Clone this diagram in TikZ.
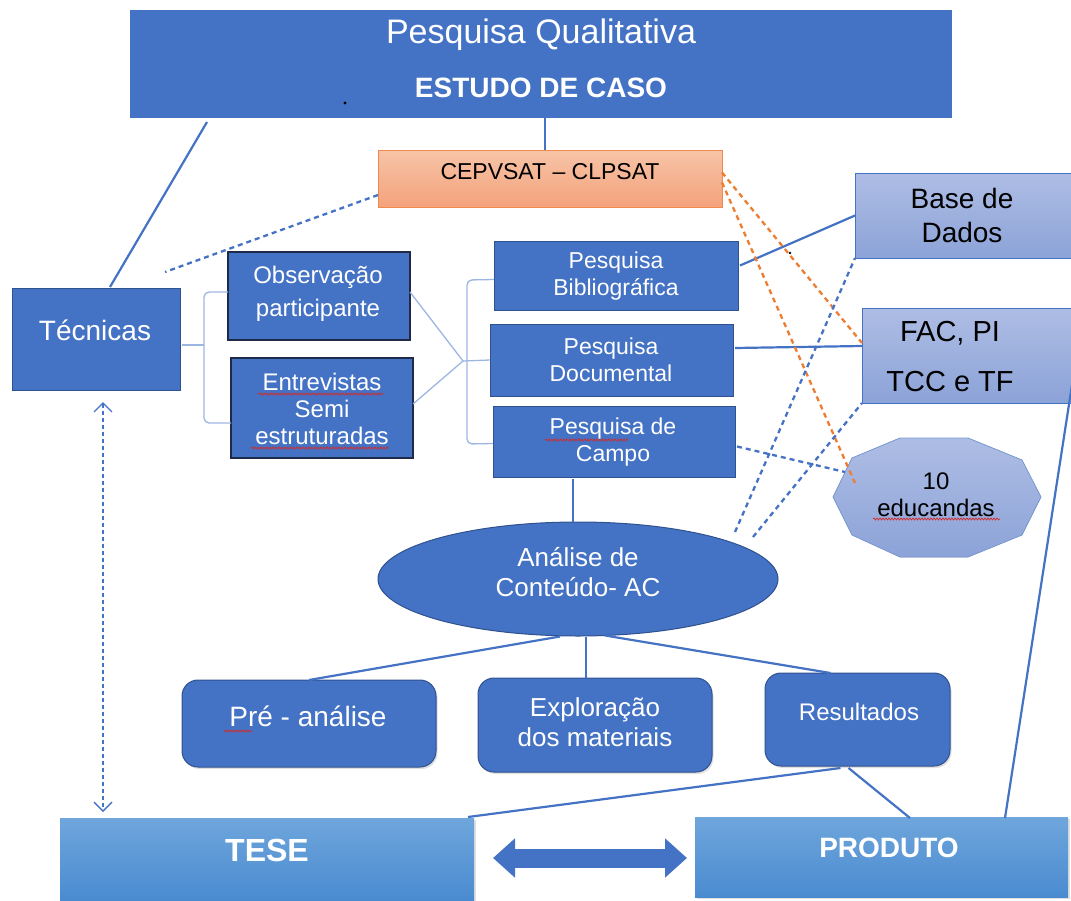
\documentclass[tikz,border=0pt]{standalone}
\usepackage{fontspec}
\setmainfont{Liberation Sans}
\usetikzlibrary{arrows.meta,calc,decorations.pathmorphing,shadows,shapes.geometric}

\definecolor{myblue}{HTML}{4472C4}
\definecolor{navy}{HTML}{2F528F}
\definecolor{ink}{HTML}{1E2A48}
\definecolor{liteT}{HTML}{AEBDE4}
\definecolor{liteB}{HTML}{8CA3D8}
\definecolor{barT}{HTML}{6FA6DC}
\definecolor{barB}{HTML}{4A8BD0}
\definecolor{oraT}{HTML}{F7C4A8}
\definecolor{oraB}{HTML}{F4A27B}
\definecolor{oraE}{HTML}{F08A4B}
\definecolor{oran}{HTML}{ED7D31}
\definecolor{brkc}{HTML}{9DB5E2}
\definecolor{wavyred}{HTML}{D02C2C}

\newcommand{\fsz}[2]{\fontsize{#1}{#2}\selectfont}

\begin{document}
\begin{tikzpicture}[x=1pt,y=-1pt,
  box/.style={rectangle, inner sep=0pt, outer sep=0pt},
  dark/.style={box, fill=myblue, draw=navy, line width=1pt},
  darkk/.style={box, fill=myblue, draw=ink, line width=1.6pt},
  light/.style={box, top color=liteT, bottom color=liteB, draw=myblue, line width=0.9pt},
  roundbox/.style={box, rounded corners=16pt, fill=myblue, draw=navy, line width=1pt,
    drop shadow={opacity=0.25, shadow xshift=1.5pt, shadow yshift=-2pt}},
  bar/.style={box, top color=barT, bottom color=barB,
    drop shadow={opacity=0.25, shadow xshift=2pt, shadow yshift=-2pt}},
  lbl/.style={inner sep=0pt, text=white, align=center},
  blk/.style={lbl, text=black},
  conn/.style={draw=myblue, line width=2.2pt},
  brk/.style={draw=brkc, line width=1.3pt},
  bdash/.style={draw=myblue, line width=2.3pt, dash pattern=on 5pt off 4pt},
  odash/.style={draw=oran, line width=2.3pt, dash pattern=on 5pt off 4pt},
  wavy/.style={draw=wavyred, line width=0.7pt, decorate,
    decoration={snake, amplitude=1pt, segment length=3pt}}
]
\useasboundingbox (0,0) rectangle (1071,900);
\clip (0,0) rectangle (1071,900);

% ---------- boxes ----------
\node[box, fill=myblue, minimum width=822pt, minimum height=108pt] (top) at (541,64) {};
\node[box, top color=oraT, bottom color=oraB, draw=oraE, line width=0.8pt,
      minimum width=344pt, minimum height=57pt] (ora) at (550,178.5) {};
\node[dark, minimum width=168pt, minimum height=102pt] (tec) at (96,339) {};
\node[darkk, minimum width=182pt, minimum height=88pt] (obs) at (319,296) {};
\node[darkk, minimum width=182pt, minimum height=100pt] (ent) at (322,408) {};
\node[dark, minimum width=244pt, minimum height=69pt] (bib) at (616,275.5) {};
\node[dark, minimum width=243pt, minimum height=72pt] (doc) at (611.5,360) {};
\node[dark, minimum width=242pt, minimum height=71pt] (cam) at (614,441.5) {};
\node[light, minimum width=225pt, minimum height=85pt] (base) at (967.5,215.5) {};
\node[light, minimum width=218pt, minimum height=95pt] (fac) at (971,355.5) {};

% ten-sided badge
\coordinate (oct) at (937,497);
\filldraw[top color=liteT, bottom color=liteB, draw=myblue!70, line width=0.8pt, shift={(937,497)}]
  (-37,-59) -- (31,-59) -- (85,-37) -- (104,0) -- (85,38) -- (31,60)
  -- (-37,60) -- (-85,38) -- (-104,0) -- (-85,-39) -- cycle;

\node[ellipse, fill=myblue, draw=navy, line width=1pt, inner sep=0pt,
      minimum width=400pt, minimum height=114pt] (ell) at (578,579) {};

\node[roundbox, minimum width=254pt, minimum height=87pt] (pre) at (309,723.5) {};
\node[roundbox, minimum width=234pt, minimum height=94pt] (exp) at (595,725) {};
\node[roundbox, minimum width=185pt, minimum height=93pt] (res) at (857.5,719.5) {};

\node[bar, minimum width=414pt, minimum height=82pt] (tese) at (267,859) {};
\node[bar, minimum width=373pt, minimum height=80pt] (prod) at (881.5,857) {};

% ---------- texts ----------
\node[lbl, font=\fsz{34}{40}] (tPQ) at (541,35) {Pesquisa Qualitativa};
\node[lbl, font=\fsz{28}{32}\bfseries] (tEC) at (541,88) {ESTUDO DE CASO};
\node[blk, font=\fsz{23}{27}] (tOra) at (550,172) {CEPVSAT – CLPSAT};
\node[lbl, font=\fsz{28}{32}] (tTec) at (95,330) {Técnicas};
\node[lbl, font=\fsz{24}{33}] (tObs) at (318,293.5) {Observação\\participante};
\node[lbl, font=\fsz{24}{27}] (tEnt) at (322,409) {Entrevistas\\Semi\\estruturadas};
\node[lbl, font=\fsz{23}{27}] (tBib) at (616,276.5) {Pesquisa\\Bibliográfica};
\node[lbl, font=\fsz{23}{27}] (tDoc) at (611,359.5) {Pesquisa\\Documental};
\node[lbl, font=\fsz{23}{27}] (tCam) at (613,442.5) {Pesquisa de\\Campo};
\node[blk, font=\fsz{28}{34}] (tBase) at (962,215) {Base de\\Dados};
\node[blk, font=\fsz{29}{50}] (tFac) at (950,357) {FAC, PI\\TCC e TF};
\node[blk, font=\fsz{24}{27}] (tOct) at (936,495) {10\\educandas};
\node[lbl, font=\fsz{26}{30}] (tEll) at (578,572) {Análise de\\Conteúdo- AC};
\node[lbl, font=\fsz{28}{32}] (tPre) at (308,716) {Pré - análise};
\node[lbl, font=\fsz{26}{30}] (tExp) at (595,722) {Exploração\\dos materiais};
\node[lbl, font=\fsz{24}{28}] (tRes) at (859,712) {Resultados};
\node[lbl, font=\fsz{32}{36}\bfseries] (tTese) at (267,850) {TESE};
\node[lbl, font=\fsz{28}{32}\bfseries] (tProd) at (889,848) {PRODUTO};

% spell-check underlines
\draw[wavy] (258,394) -- (383,394);
\draw[wavy] (251,448) -- (389,448);
\draw[wavy] (545,440) -- (628,440);
\draw[wavy] (873,519) -- (1000,519);
\draw[wavy] (224,731) -- (252,731);

% stray dots
\fill (345,103) circle (1.6pt);
\fill (790,253) circle (1.4pt);

% ---------- connectors ----------
\draw[conn] ($(top.south west)+(77,4)$) -- ($(tec.north west)+(98,-1)$);
\draw[conn] ($(top.south)+(4,0)$) -- ($(ora.north)+(-5,0)$);

\coordinate (free) at (165,272);
\draw[bdash] ($(ora.south west)+(0,-12)$) -- (free);

% brackets
\draw[brk] ($(tec.east)+(2,6)$) -- (204,345);
\draw[brk, rounded corners=5pt] ($(obs.west)+(0,-4)$) -- (204,292) -- (204,423) -- ($(ent.west)+(0,15)$);
\coordinate (cv) at (463,361);
\draw[brk] ($(obs.east)+(0,-4)$) -- (cv) -- ($(ent.east)+(0,-4)$);
\draw[brk] (cv) -- (doc.west);
\draw[brk, rounded corners=5pt] ($(bib.west)+(0,4)$) -- (467,280) -- (467,444) -- ($(cam.west)+(0,2)$);

% links to the sources
\draw[conn] ($(bib.east)+(2,-10)$) -- (base.west);
\draw[conn] ($(doc.east)+(2,-12)$) -- ($(fac.west)+(0,-9.5)$);
\draw[odash] ($(ora.east)+(0,-6)$) -- ($(fac.north west)+(0,35)$);
\draw[odash] ($(ora.east)+(0,4)$) -- ($(oct)+(-82,-14)$);
\draw[bdash] ($(cam.east)+(2,5)$) -- ($(oct)+(-92,-25)$);
\draw[bdash] ($(ell.center)+(157,-47)$) -- (base.south west);
\draw[bdash] ($(ell.center)+(175,-42)$) -- (fac.south west);

% analysis chain
\draw[conn] ($(cam.south)+(-41,2)$) -- ($(ell.north)+(-5,0)$);
\draw[conn] ($(ell.south)+(-18,0)$) -- (pre.north);
\draw[conn] ($(ell.south)+(8,0)$) -- ($(exp.north)+(-9,0)$);
\draw[conn] ($(ell.south)+(27,-1)$) -- ($(res.north)+(-27,0)$);
\draw[conn] ($(res.south)+(-17,2)$) -- ($(tese.north east)+(-6,-1)$);
\draw[conn] ($(res.south)+(-9,2)$) -- ($(prod.north)+(28.5,1)$);
\draw[conn] ($(fac.south east)+(-8,-18)$) -- ($(prod.north east)+(-63,1)$);

% technique <-> thesis
\draw[myblue, line width=1.4pt, dash pattern=on 4pt off 3pt,
      {Straight Barb[length=9pt,width=18pt]}-{Straight Barb[length=9pt,width=18pt]}]
  ($(tec.south)+(7,12)$) -- ($(tese.north west)+(43,-6)$);

% thesis <-> product
\draw[myblue, line width=19pt,
      {Triangle[length=22pt,width=38pt]}-{Triangle[length=22pt,width=38pt]}]
  ($(tese.east)+(19,-1)$) -- ($(prod.west)+(-8,1)$);

\end{tikzpicture}
\end{document}
